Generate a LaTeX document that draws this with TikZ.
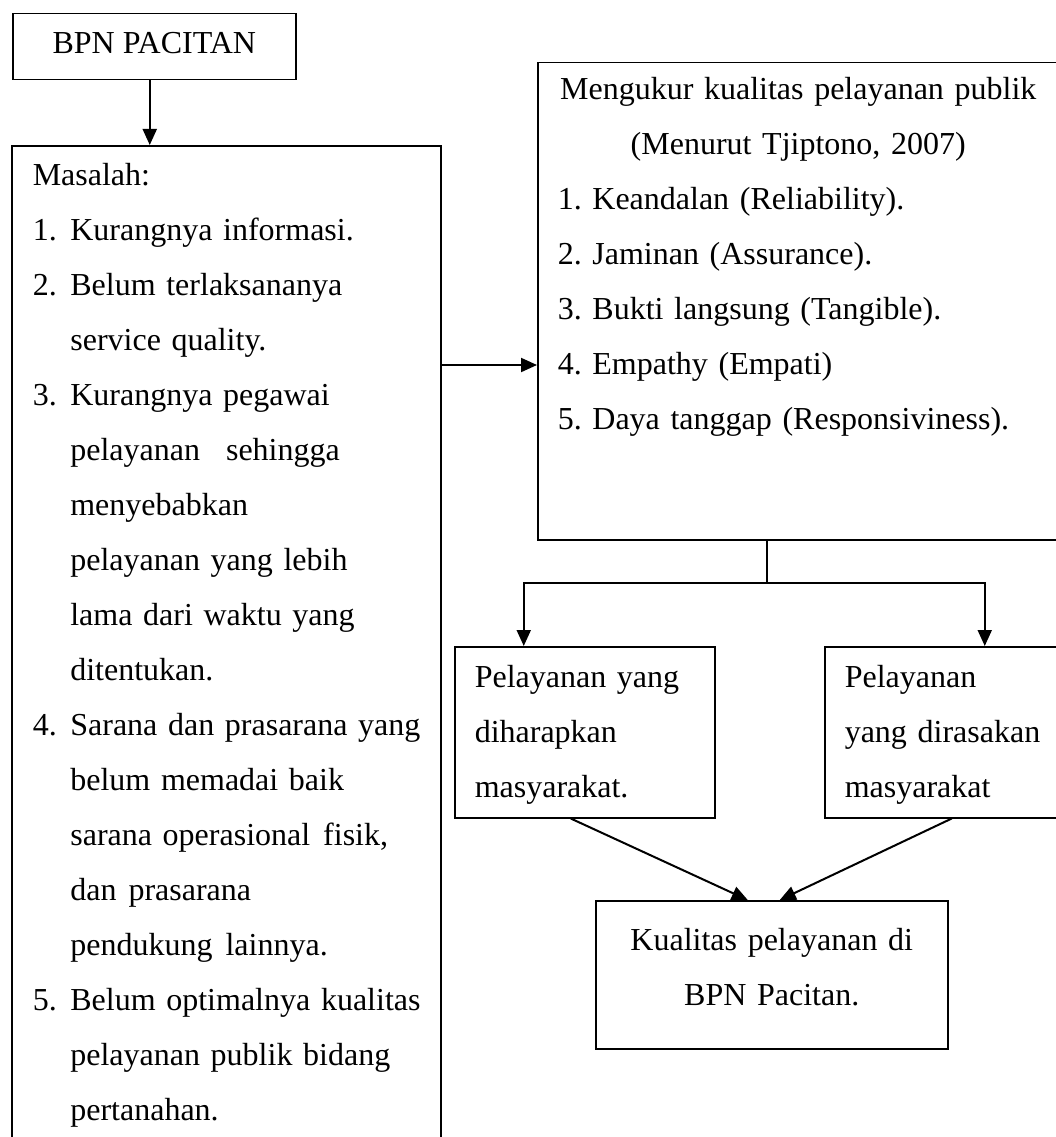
\documentclass[tikz,border=0pt]{standalone}
\usepackage{fontspec}
\setmainfont{Liberation Serif}
\usetikzlibrary{arrows.meta}

\frenchspacing
\newcommand{\nr}[2]{\makebox[37.6pt][l]{#1}\mbox{#2}}
\newcommand{\lanjut}[1]{\hspace*{37.6pt}\mbox{#1}}

\begin{document}
\begin{tikzpicture}[x=1pt, y=-1pt, >={Triangle[length=16pt,width=14pt]}]
    % Styles
    \tikzstyle{kotak} = [rectangle, draw, line width=1.5pt, inner sep=0pt, anchor=north west, font=\fontsize{32}{55}\selectfont]
    \tikzstyle{panah} = [->, line width=2pt]
    \tikzstyle{garis} = [line width=2pt]

    \useasboundingbox (0,0) rectangle (1056,1137);
    \clip (0,0) rectangle (1056,1137);

    % Nodes
    \node[kotak, minimum width=283pt, minimum height=66pt, text height=22pt, text depth=8pt] (bpn) at (12,13) {BPN PACITAN};

    \node[kotak, text width=387pt, inner xsep=21pt, align=left, text height=40pt, text depth=975pt] (masalah) at (11,145) {Masalah:\\
        \nr{1.}{Kurangnya informasi.}\\
        \nr{2.}{Belum terlaksananya}\\
        \lanjut{service quality.}\\
        \nr{3.}{Kurangnya pegawai}\\
        \lanjut{pelayanan\hspace{26pt}sehingga}\\
        \lanjut{menyebabkan}\\
        \lanjut{pelayanan yang lebih}\\
        \lanjut{lama dari waktu yang}\\
        \lanjut{ditentukan.}\\
        \nr{4.}{Sarana dan prasarana yang}\\
        \lanjut{belum memadai baik}\\
        \lanjut{sarana operasional\hspace{13pt}fisik,}\\
        \lanjut{dan\hspace{12pt}prasarana}\\
        \lanjut{pendukung\hspace{13pt}lainnya.}\\
        \nr{5.}{Belum optimalnya kualitas}\\
        \lanjut{pelayanan publik bidang}\\
        \lanjut{pertanahan.}};

    \node[kotak, text width=481pt, inner xsep=20pt, align=left, text height=37pt, text depth=440pt] (ukur) at (537,62) {\makebox[481pt]{Mengukur kualitas pelayanan publik}\\
        \makebox[481pt]{(Menurut Tjiptono, 2007)}\\
        \mbox{1. Keandalan (Reliability).}\\
        \mbox{2. Jaminan (Assurance).}\\
        \mbox{3. Bukti langsung (Tangible).}\\
        \mbox{4. Empathy (Empati)}\\
        \mbox{5. Daya tanggap (Responsiviness).}};

    \node[kotak, text width=220pt, inner xsep=20pt, align=left, text height=41pt, text depth=130pt] (harap) at (454,646) {Pelayanan yang\\ diharapkan\\ masyarakat.};
    \node[kotak, text width=205pt, inner xsep=20pt, align=left, text height=41pt, text depth=130pt] (rasa) at (824,646) {Pelayanan\\ \mbox{yang dirasakan}\\ masyarakat};

    \node[kotak, text width=352pt, align=center, text height=50pt, text depth=98pt] (hasil) at (595,900) {Kualitas pelayanan di\\ BPN Pacitan.};

    % Arrows
    \coordinate (bpnkaki) at ([xshift=-4.5pt]bpn.south);
    \draw[panah] (bpnkaki) -- (bpnkaki |- masalah.north);

    \coordinate (kiri) at ([yshift=-220pt]masalah.north east);
    \draw[panah] (kiri) -- (kiri -| ukur.west);

    \coordinate (cabang) at ([xshift=-31.5pt, yshift=-42pt]ukur.south);
    \draw[garis] (cabang |- ukur.south) -- (cabang);
    \draw[panah] (cabang) -| ([xshift=-61pt]harap.north);
    \draw[panah] (cabang) -| ([xshift=37.5pt]rasa.north);

    \draw[panah] ([xshift=-14pt]harap.south) -- ([xshift=-24pt]hasil.north);
    \draw[panah] ([xshift=4.5pt]rasa.south) -- ([xshift=8pt]hasil.north);

\end{tikzpicture}
\end{document}
